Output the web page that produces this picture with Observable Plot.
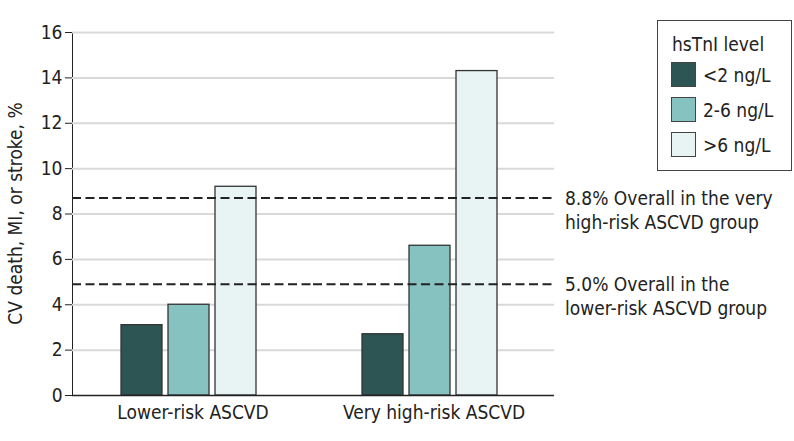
<!DOCTYPE html>
<html>
<head>
<meta charset="utf-8">
<script src="https://cdn.jsdelivr.net/npm/d3@7"></script>
<script src="https://cdn.jsdelivr.net/npm/@observablehq/plot@0.6"></script>
<style>
  html, body { margin: 0; padding: 0; background: #fff; }
  #wrap { position: relative; width: 794px; height: 441px; font-family: "DejaVu Sans Condensed", "DejaVu Sans", sans-serif; color: #222; }
  #legend { position: absolute; left: 657px; top: 20px; width: 135px; height: 151px; border: 1.4px solid #444; box-sizing: border-box; background: #fff; }
  #legend .title { position: absolute; left: 14px; top: 11px; font-size: 19px; line-height: 24px; }
  #legend .item { position: absolute; left: 13px; height: 25px; display: flex; align-items: center; font-size: 19px; }
  #legend .sw { width: 25px; height: 25px; border: 1.2px solid #444; box-sizing: border-box; margin-right: 7px; }
</style>
</head>
<body>
<div id="wrap"></div>
<script>
// ---- data ----
const groups = ["Lower-risk ASCVD", "Very high-risk ASCVD"];
const levels = ["<2 ng/L", "2-6 ng/L", ">6 ng/L"];
const lowerRiskValues = [3.1, 4.0, 9.2];
const veryHighRiskValues = [2.7, 6.6, 14.3];
const levelColors = ["#2c5553", "#86c2c0", "#e8f3f4"];
const yTicks = [0, 2, 4, 6, 8, 10, 12, 14, 16];
const refValues = [8.7, 4.9];
const refLabels = [
  ["8.8% Overall in the very", "high-risk ASCVD group"],
  ["5.0% Overall in the", "lower-risk ASCVD group"]
];
const yLabel = "CV death, MI, or stroke, %";
const legendTitle = "hsTnI level";

// ---- table ----
const seriesByGroup = [lowerRiskValues, veryHighRiskValues];
const rows = [];
groups.forEach((g, gi) => levels.forEach((l, li) => rows.push({group: g, level: l, value: seriesByGroup[gi][li]})));

const FONT = "'DejaVu Sans Condensed', 'DejaVu Sans', sans-serif";

const plot = Plot.plot({
  width: 794,
  height: 441,
  marginLeft: 71,
  marginRight: 240,
  marginTop: 32,
  marginBottom: 46,
  style: {fontFamily: FONT, fontSize: "19px", color: "#222", background: "#fff"},
  facet: {data: rows, x: "group"},
  fx: {domain: groups, padding: 0, axis: "bottom", label: null, tickSize: 0, tickPadding: 10},
  x: {domain: levels, axis: null, paddingInner: 0.13, paddingOuter: 1.1, align: 0.46},
  y: {domain: [0, 16], ticks: yTicks, tickSize: 7, tickPadding: 3, line: true, label: null},
  color: {domain: levels, range: levelColors},
  marks: [
    Plot.ruleY(yTicks.filter(d => d > 0), {stroke: "#d9d9d9", strokeWidth: 2}),
    Plot.barY(rows, {x: "level", y: "value", fill: "level", stroke: "#333", strokeWidth: 1.3}),
    Plot.ruleY([0], {stroke: "#222", strokeWidth: 1.5}),
    Plot.ruleY(refValues, {stroke: "#222", strokeWidth: 2, strokeDasharray: "9,4.5"})
  ]
});

const wrap = document.getElementById("wrap");
wrap.appendChild(plot);

// y scale from the plot
const ys = plot.scale("y");
const yf = ys.apply ? (v => ys.apply(v)) : d3.scaleLinear(ys.domain, ys.range);

const svg = d3.select(plot);
// y-axis label
svg.append("text")
  .attr("transform", `translate(15,${(yf(0) + yf(16)) / 2}) rotate(-90)`)
  .attr("text-anchor", "middle")
  .attr("dominant-baseline", "central")
  .attr("fill", "#222")
  .style("font-family", FONT).style("font-size", "19px")
  .text(yLabel);

// reference line labels
refValues.forEach((v, i) => {
  const t = svg.append("text")
    .attr("x", 565).attr("y", yf(v) + 1)
    .attr("text-anchor", "start")
    .attr("fill", "#222")
    .style("font-family", FONT).style("font-size", "19px");
  refLabels[i].forEach((line, k) => {
    t.append("tspan").attr("x", 565).attr("dy", k === 0 ? "0.35em" : "24px").text(line);
  });
});

// legend
const lg = document.createElement("div");
lg.id = "legend";
const title = document.createElement("div");
title.className = "title";
title.textContent = legendTitle;
lg.appendChild(title);
levels.forEach((l, i) => {
  const it = document.createElement("div");
  it.className = "item";
  it.style.top = (41 + i * 35) + "px";
  const sw = document.createElement("div");
  sw.className = "sw";
  sw.style.background = levelColors[i];
  const tx = document.createElement("span");
  tx.textContent = l;
  it.appendChild(sw);
  it.appendChild(tx);
  lg.appendChild(it);
});
wrap.appendChild(lg);
</script>
</body>
</html>
